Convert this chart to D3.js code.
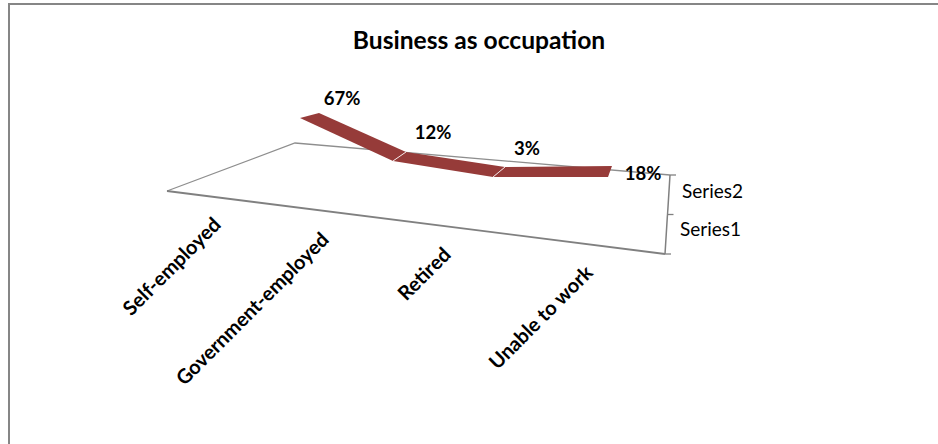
<!DOCTYPE html>
<html>
<head>
<meta charset="utf-8">
<script src="https://cdn.jsdelivr.net/npm/d3@7"></script>
<style>
html,body{margin:0;padding:0;background:#fff}
svg{display:block}
text{font-family:Lato,"Open Sans",sans-serif;fill:#000}
</style>
</head>
<body>
<script>
const titleText = "Business as occupation";
const categories = ["Self-employed", "Government-employed", "Retired", "Unable to work"];
const values = [67, 12, 3, 18];
const seriesNames = ["Series2", "Series1"];

const W = 938, H = 444;
const svg = d3.select("body").append("svg").attr("width", W).attr("height", H);
const idx = d3.range(categories.length);

// Projection of the 3D plot, expressed as scales
const backX = d3.scaleLinear().domain(idx).range([319, 406, 505, 612]);
const frontX = d3.scaleLinear().domain(idx).range([300, 393, 493, 608]);
const backFloorY = d3.scaleLinear().domain([295, 670]).range([143, 175]);
const lift = d3.scaleLinear().domain([3, 12, 18, 67]).range([-6.1, 0.5, 4.1, 32]);
const depth = d3.scaleLinear().domain([0, 1, 2, 3]).range([5, 9, 10, 11]);
const topPt = i => [backX(i), backFloorY(backX(i)) - lift(values[i])];
const botPt = i => [frontX(i), topPt(i)[1] + depth(i)];

// Frame
const gray = "#868686";
svg.append("path").attr("d", `M9,${H}V4H${W}`).attr("fill", "none")
  .attr("stroke", gray).attr("stroke-width", 2);

// Floor
const floor = { l: [167, 191], b: [295, 143], r: [670, 175], f: [665, 254] };
const line = d3.line();
svg.append("path").attr("d", line([floor.r, floor.b, floor.l]))
  .attr("fill", "none").attr("stroke", "#8e8e8e").attr("stroke-width", 1.3);
svg.append("path").attr("d", line([floor.l, floor.f]))
  .attr("fill", "none").attr("stroke", "#808080").attr("stroke-width", 1.8);

// Depth axis
const axisY = d3.scaleLinear().domain([0, seriesNames.length]).range([floor.f[1], floor.r[1]]);
const axisX = d3.scaleLinear().domain([0, seriesNames.length]).range([floor.f[0], floor.r[0]]);
svg.append("path").attr("d", line([floor.r, floor.f]))
  .attr("fill", "none").attr("stroke", "#808080").attr("stroke-width", 1.5);
d3.range(seriesNames.length + 1).forEach(k => {
  svg.append("line")
    .attr("x1", axisX(k)).attr("x2", axisX(k) + 6)
    .attr("y1", axisY(k)).attr("y2", axisY(k))
    .attr("stroke", "#808080").attr("stroke-width", 1.3);
});

// Ribbon
svg.append("g").selectAll("path").data(idx.slice(0, -1)).join("path")
  .attr("d", i => line([topPt(i), topPt(i + 1), botPt(i + 1), botPt(i)]) + "Z")
  .attr("fill", "#963b39");
svg.append("g").selectAll("line").data(idx.slice(1, -1)).join("line")
  .attr("x1", i => topPt(i)[0]).attr("y1", i => topPt(i)[1])
  .attr("x2", i => botPt(i)[0]).attr("y2", i => botPt(i)[1])
  .attr("stroke", "#f3e4e4").attr("stroke-width", 1);

// Title
svg.append("text").attr("x", 479).attr("y", 49).attr("text-anchor", "middle")
  .attr("font-size", 24.6).attr("font-weight", 700).text(titleText);

// Data labels
const dataLabelX = d3.scaleLinear().domain(idx).range([342, 433, 527, 643]);
const dataLabelY = d3.scaleLinear().domain(idx).range([105, 139, 155, 180]);
svg.append("g").selectAll("text").data(idx).join("text")
  .attr("x", i => dataLabelX(i)).attr("y", i => dataLabelY(i))
  .attr("text-anchor", "middle").attr("font-size", 18.5).attr("font-weight", 700)
  .text(i => values[i] + "%");

// Category labels
const catX = d3.scaleLinear().domain(idx).range([222, 330, 452, 594]);
const catY = d3.scaleLinear().domain(idx).range([226, 241, 256, 274]);
svg.append("g").selectAll("text").data(idx).join("text")
  .attr("transform", i => `translate(${catX(i)},${catY(i)}) rotate(-45)`)
  .attr("text-anchor", "end").attr("font-size", 20).attr("font-weight", 700)
  .text(i => categories[i]);

// Series labels
const serX = d3.scaleOrdinal().domain(seriesNames).range([682, 680]);
const serY = d3.scaleOrdinal().domain(seriesNames).range([198, 236]);
svg.append("g").selectAll("text").data(seriesNames).join("text")
  .attr("x", d => serX(d)).attr("y", d => serY(d))
  .attr("font-size", 19).text(d => d);
</script>
</body>
</html>
